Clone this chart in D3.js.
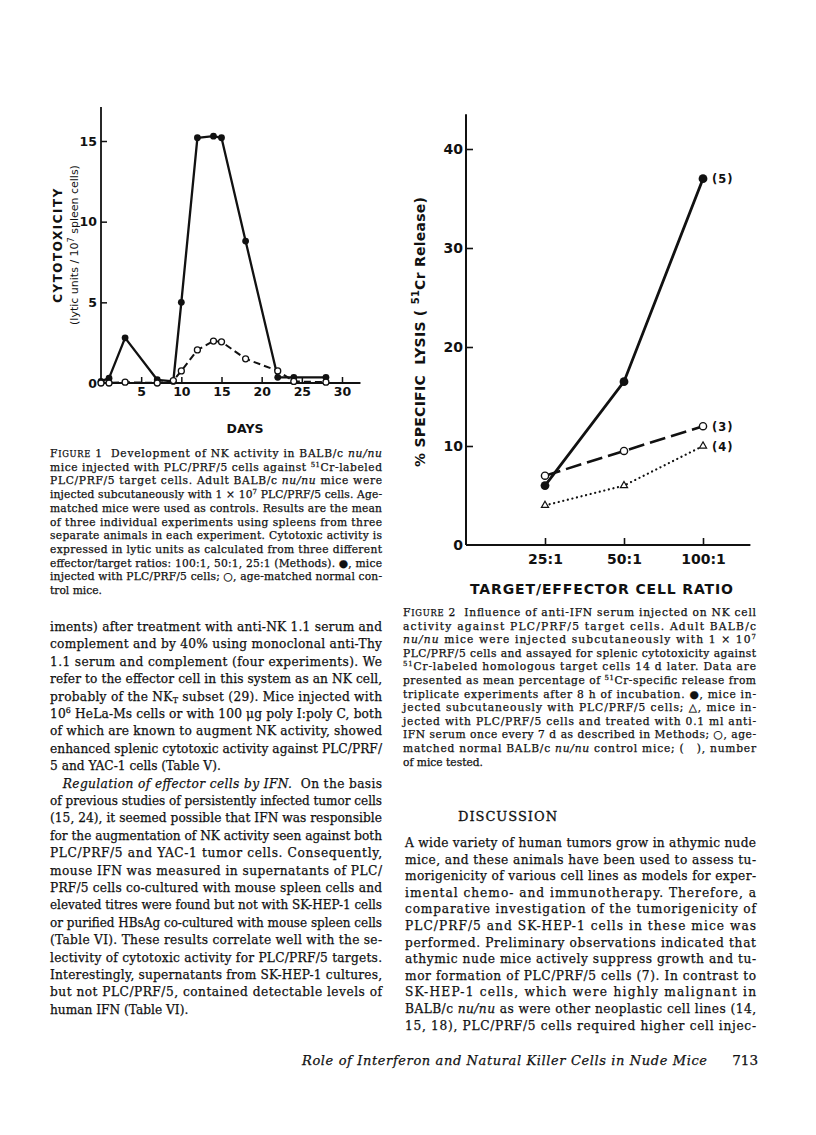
<!DOCTYPE html>
<html>
<head>
<meta charset="utf-8">
<script src="https://cdn.jsdelivr.net/npm/d3@7"></script>
<style>
  body { margin: 0; background: #fff; }
  svg { display: block; }
  text { white-space: pre; }
</style>
</head>
<body>
<svg id="page" width="816" height="1135"></svg>
<script>
// ---- Figure 1 data: cytotoxicity (lytic units / 10^7 spleen cells) by day ----
const fig1Days = [0, 1, 3, 7, 9, 10, 12, 14, 15, 18, 22, 24, 28];
const fig1Injected = [0.1, 0.3, 2.8, 0.2, 0.1, 5.0, 15.2, 15.3, 15.2, 8.8, 0.35, 0.35, 0.35];
const fig1Control = [0, 0, 0.05, 0, 0.15, 0.75, 2.05, 2.6, 2.55, 1.5, 0.75, 0.1, 0.05];
const fig1XTicks = [5, 10, 15, 20, 25, 30];
const fig1YTicks = [0, 5, 10, 15];

// ---- Figure 2 data: % specific lysis by target/effector ratio ----
const fig2Ratios = ["25:1", "50:1", "100:1"];
const fig2Injected = [6, 16.5, 37];
const fig2Control = [7, 9.5, 12];
const fig2AntiIFN = [4, 6, 10];
const fig2Counts = ["(5)", "(3)", "(4)"];
const fig2YTicks = [0, 10, 20, 30, 40];

// ---- page text (one entry per printed line) ----
const caption1 = [
  "F{IGURE} 1  Development of NK activity in BALB/c *nu/nu*",
  "mice injected with PLC/PRF/5 cells against ^51^Cr-labeled",
  "PLC/PRF/5 target cells. Adult BALB/c *nu/nu* mice were",
  "injected subcutaneously with 1 × 10^7^ PLC/PRF/5 cells. Age-",
  "matched mice were used as controls. Results are the mean",
  "of three individual experiments using spleens from three",
  "separate animals in each experiment. Cytotoxic activity is",
  "expressed in lytic units as calculated from three different",
  "effector/target ratios: 100:1, 50:1, 25:1 (Methods). ●, mice",
  "injected with PLC/PRF/5 cells; ○, age-matched normal con-",
  "trol mice."
];
const caption2 = [
  "F{IGURE} 2  Influence of anti-IFN serum injected on NK cell",
  "activity against PLC/PRF/5 target cells. Adult BALB/c",
  "*nu/nu* mice were injected subcutaneously with 1 × 10^7^",
  "PLC/PRF/5 cells and assayed for splenic cytotoxicity against",
  "^51^Cr-labeled homologous target cells 14 d later. Data are",
  "presented as mean percentage of ^51^Cr-specific release from",
  "triplicate experiments after 8 h of incubation. ●, mice in-",
  "jected subcutaneously with PLC/PRF/5 cells; △, mice in-",
  "jected with PLC/PRF/5 cells and treated with 0.1 ml anti-",
  "IFN serum once every 7 d as described in Methods; ○, age-",
  "matched normal BALB/c *nu/nu* control mice; (   ), number",
  "of mice tested."
];
const leftBody = [
  "iments) after treatment with anti-NK 1.1 serum and",
  "complement and by 40% using monoclonal anti-Thy",
  "1.1 serum and complement (four experiments). We",
  "refer to the effector cell in this system as an NK cell,",
  "probably of the NK~T~ subset (29). Mice injected with",
  "10^6^ HeLa-Ms cells or with 100 μg poly I:poly C, both",
  "of which are known to augment NK activity, showed",
  "enhanced splenic cytotoxic activity against PLC/PRF/",
  "5 and YAC-1 cells (Table V).",
  "   *Regulation of effector cells by IFN.*  On the basis",
  "of previous studies of persistently infected tumor cells",
  "(15, 24), it seemed possible that IFN was responsible",
  "for the augmentation of NK activity seen against both",
  "PLC/PRF/5 and YAC-1 tumor cells. Consequently,",
  "mouse IFN was measured in supernatants of PLC/",
  "PRF/5 cells co-cultured with mouse spleen cells and",
  "elevated titres were found but not with SK-HEP-1 cells",
  "or purified HBsAg co-cultured with mouse spleen cells",
  "(Table VI). These results correlate well with the se-",
  "lectivity of cytotoxic activity for PLC/PRF/5 targets.",
  "Interestingly, supernatants from SK-HEP-1 cultures,",
  "but not PLC/PRF/5, contained detectable levels of",
  "human IFN (Table VI)."
];
const leftBodyLast = [8, 22];
const rightBody = [
  "A wide variety of human tumors grow in athymic nude",
  "mice, and these animals have been used to assess tu-",
  "morigenicity of various cell lines as models for exper-",
  "imental chemo- and immunotherapy. Therefore, a",
  "comparative investigation of the tumorigenicity of",
  "PLC/PRF/5 and SK-HEP-1 cells in these mice was",
  "performed. Preliminary observations indicated that",
  "athymic nude mice actively suppress growth and tu-",
  "mor formation of PLC/PRF/5 cells (7). In contrast to",
  "SK-HEP-1 cells, which were highly malignant in",
  "BALB/c *nu/nu* as were other neoplastic cell lines (14,",
  "15, 18), PLC/PRF/5 cells required higher cell injec-"
];

const svg = d3.select("#page");
const ink = "#111";
const serif = "'DejaVu Serif', serif";
const sans = "'DejaVu Sans', sans-serif";

// ================= Figure 1 =================
const x1 = d3.scaleLinear().domain([0, 30]).range([101, 342]);
const y1 = d3.scaleLinear().domain([0, 15]).range([383, 141]);
const g1 = svg.append("g");

g1.append("line")
  .attr("x1", x1(0)).attr("x2", x1(0))
  .attr("y1", y1(0)).attr("y2", y1(17.1))
  .attr("stroke", ink).attr("stroke-width", 1.8);
g1.append("line")
  .attr("x1", x1(0)).attr("x2", x1(32.3))
  .attr("y1", y1(0)).attr("y2", y1(0))
  .attr("stroke", ink).attr("stroke-width", 1.8);

const ax1 = g1.append("g")
  .attr("transform", `translate(0,${y1(0)})`)
  .call(d3.axisBottom(x1).tickValues(fig1XTicks).tickSizeInner(-6).tickSizeOuter(0).tickPadding(4));
const ay1 = g1.append("g")
  .attr("transform", `translate(${x1(0)},0)`)
  .call(d3.axisLeft(y1).tickValues(fig1YTicks).tickSizeInner(-6).tickSizeOuter(0).tickPadding(4));
[ax1, ay1].forEach((a) => {
  a.select(".domain").remove();
  a.selectAll("line").attr("stroke", ink).attr("stroke-width", 1.5);
  a.selectAll("text").attr("font-family", sans).attr("font-weight", "bold")
    .attr("font-size", 12.5).attr("fill", ink);
});
ay1.selectAll(".tick").filter((d) => d === 0).select("line").remove();

g1.append("text")
  .attr("x", 245).attr("y", 433)
  .attr("text-anchor", "middle")
  .attr("font-family", sans).attr("font-weight", "bold").attr("font-size", 12.5)
  .attr("fill", ink).text("DAYS");

const yLab1 = g1.append("g").attr("transform", "translate(62,245) rotate(-90)");
yLab1.append("text")
  .attr("text-anchor", "middle").attr("y", 0)
  .attr("font-family", sans).attr("font-weight", "bold").attr("font-size", 12)
  .attr("letter-spacing", 1.5).attr("fill", ink).text("CYTOTOXICITY");
const yl2 = yLab1.append("text")
  .attr("text-anchor", "middle").attr("y", 16)
  .attr("font-family", sans).attr("font-size", 11).attr("fill", ink);
yl2.append("tspan").text("(lytic units / 10");
yl2.append("tspan").attr("font-size", 8).attr("dy", -4).text("7");
yl2.append("tspan").attr("dy", 4).text(" spleen cells)");

const line1 = (vals) => d3.line().x((d, i) => x1(fig1Days[i])).y((d) => y1(d))(vals);

g1.append("path").attr("d", line1(fig1Injected))
  .attr("fill", "none").attr("stroke", ink).attr("stroke-width", 2.3).attr("stroke-linejoin", "round");
g1.selectAll(".f1dot").data(fig1Injected).join("circle")
  .attr("class", "f1dot")
  .attr("cx", (d, i) => x1(fig1Days[i])).attr("cy", (d) => y1(d))
  .attr("r", 3.4).attr("fill", ink);
g1.append("path").attr("d", line1(fig1Control))
  .attr("fill", "none").attr("stroke", ink).attr("stroke-width", 2)
  .attr("stroke-dasharray", "7,4");
g1.selectAll(".f1open").data(fig1Control).join("circle")
  .attr("class", "f1open")
  .attr("cx", (d, i) => x1(fig1Days[i])).attr("cy", (d) => y1(d))
  .attr("r", 3).attr("fill", "#fff").attr("stroke", ink).attr("stroke-width", 1.3);

// ================= Figure 2 =================
const x2 = d3.scalePoint().domain(fig2Ratios).range([545, 703]);
const y2 = d3.scaleLinear().domain([0, 40]).range([545, 149]);
const g2 = svg.append("g");
const x2Start = x2(fig2Ratios[0]) - x2.step();
const x2End = x2(fig2Ratios[2]) + x2.step() * 0.6;

g2.append("line")
  .attr("x1", x2Start).attr("x2", x2Start)
  .attr("y1", y2(0)).attr("y2", y2(43.5))
  .attr("stroke", ink).attr("stroke-width", 2);
g2.append("line")
  .attr("x1", x2Start).attr("x2", x2End)
  .attr("y1", y2(0)).attr("y2", y2(0))
  .attr("stroke", ink).attr("stroke-width", 2);

const ax2 = g2.append("g")
  .attr("transform", `translate(0,${y2(0)})`)
  .call(d3.axisBottom(x2).tickSizeInner(-7).tickSizeOuter(0).tickPadding(9));
const ay2 = g2.append("g")
  .attr("transform", `translate(${x2Start},0)`)
  .call(d3.axisLeft(y2).tickValues(fig2YTicks).tickSizeInner(-7).tickSizeOuter(0).tickPadding(3));
[ax2, ay2].forEach((a) => {
  a.select(".domain").remove();
  a.selectAll("line").attr("stroke", ink).attr("stroke-width", 1.6);
  a.selectAll("text").attr("font-family", sans).attr("font-weight", "bold")
    .attr("font-size", 14).attr("fill", ink);
});
ay2.selectAll(".tick").filter((d) => d === 0).select("line").remove();

g2.append("text")
  .attr("x", 470).attr("y", 594)
  .attr("font-family", sans).attr("font-weight", "bold").attr("font-size", 14)
  .attr("textLength", 263).attr("lengthAdjust", "spacing")
  .attr("fill", ink).text("TARGET/EFFECTOR CELL RATIO");

const yLab2 = g2.append("text")
  .attr("transform", "translate(425,332) rotate(-90)")
  .attr("x", -135)
  .attr("font-family", sans).attr("font-weight", "bold").attr("font-size", 14)
  .attr("textLength", 270).attr("lengthAdjust", "spacing")
  .attr("fill", ink);
yLab2.append("tspan").text("% SPECIFIC  LYSIS ( ");
yLab2.append("tspan").attr("font-size", 10).attr("dy", -6).text("51");
yLab2.append("tspan").attr("dy", 6).text("Cr Release)");

const line2 = (vals) => d3.line().x((d, i) => x2(fig2Ratios[i])).y((d) => y2(d))(vals);

g2.append("path").attr("d", line2(fig2AntiIFN))
  .attr("fill", "none").attr("stroke", ink).attr("stroke-width", 2.2)
  .attr("stroke-linecap", "round").attr("stroke-dasharray", "0.1,4.6");
g2.append("path").attr("d", line2(fig2Control))
  .attr("fill", "none").attr("stroke", ink).attr("stroke-width", 2.6)
  .attr("stroke-dasharray", "16,6");
g2.append("path").attr("d", line2(fig2Injected))
  .attr("fill", "none").attr("stroke", ink).attr("stroke-width", 2.8);

g2.selectAll(".tri").data(fig2AntiIFN).join("path")
  .attr("class", "tri")
  .attr("transform", (d, i) => `translate(${x2(fig2Ratios[i])},${y2(d)})`)
  .attr("d", d3.symbol(d3.symbolTriangle, 22))
  .attr("fill", "#fff").attr("stroke", ink).attr("stroke-width", 1.2);
g2.selectAll(".f2open").data(fig2Control).join("circle")
  .attr("class", "f2open")
  .attr("cx", (d, i) => x2(fig2Ratios[i])).attr("cy", (d) => y2(d))
  .attr("r", 3.6).attr("fill", "#fff").attr("stroke", ink).attr("stroke-width", 1.4);
g2.selectAll(".f2dot").data(fig2Injected).join("circle")
  .attr("class", "f2dot")
  .attr("cx", (d, i) => x2(fig2Ratios[i])).attr("cy", (d) => y2(d))
  .attr("r", 4.4).attr("fill", ink);

const lastVals = [fig2Injected[2], fig2Control[2], fig2AntiIFN[2]];
g2.selectAll(".cnt").data(fig2Counts).join("text")
  .attr("class", "cnt")
  .attr("x", x2(fig2Ratios[2]) + 9).attr("y", (d, i) => y2(lastVals[i]) + 4.5)
  .attr("font-family", sans).attr("font-weight", "bold").attr("font-size", 11.5)
  .attr("letter-spacing", 1).attr("fill", ink).text((d) => d);

// ================= running text =================
// scanned print is heavier than a clean serif, so give glyphs a thin outline
function richLine(str, x, y, size, width, justify) {
  const t = svg.append("text")
    .attr("x", x).attr("y", y)
    .attr("font-family", serif).attr("font-size", size).attr("fill", ink)
    .attr("stroke", ink).attr("stroke-width", 0.25)
    .attr("xml:space", "preserve");
  const parts = str.split(/(\*[^*]+\*|\^[^^]+\^|~[^~]+~|\{[^}]+\})/).filter((s) => s.length);
  let shift = 0;
  parts.forEach((p) => {
    const ts = t.append("tspan");
    let txt = p, dy = 0;
    if (p[0] === "*") { txt = p.slice(1, -1); ts.attr("font-style", "italic"); }
    else if (p[0] === "^") { txt = p.slice(1, -1); ts.attr("font-size", size * 0.65); dy = -size * 0.38; }
    else if (p[0] === "~") { txt = p.slice(1, -1); ts.attr("font-size", size * 0.65); dy = size * 0.22; }
    else if (p[0] === "{") { txt = p.slice(1, -1); ts.attr("font-size", size * 0.78); }
    if (dy - shift !== 0) ts.attr("dy", dy - shift);
    shift = dy;
    ts.text(txt);
  });
  if (justify) {
    const natural = t.node().getComputedTextLength();
    t.attr("textLength", width)
      .attr("lengthAdjust", natural > width ? "spacingAndGlyphs" : "spacing");
  }
  return t;
}

function block(lines, x, y0, step, size, width, lastIdx) {
  lines.forEach((s, i) => {
    const isLast = lastIdx.includes(i);
    richLine(s, x, y0 + i * step, size, width, !isLast);
  });
}

const leftX = 50, leftW = 332;
const rightX = 403, rightW = 353;

block(caption1, leftX, 457, 13.7, 10.7, leftW, [caption1.length - 1]);
block(leftBody, leftX, 631, 17.4, 12.2, leftW, leftBodyLast);
block(caption2, rightX, 616, 13.6, 10.7, rightW, [caption2.length - 1]);

svg.append("text")
  .attr("x", 458).attr("y", 821)
  .attr("font-family", serif).attr("font-size", 13)
  .attr("stroke", ink).attr("stroke-width", 0.3)
  .attr("textLength", 99).attr("lengthAdjust", "spacing")
  .attr("fill", ink).text("DISCUSSION");

block(rightBody, rightX + 2, 847, 16.6, 12.2, rightW - 2, []);

svg.append("text")
  .attr("x", 302).attr("y", 1065)
  .attr("font-family", serif).attr("font-style", "italic").attr("font-size", 13)
  .attr("stroke", ink).attr("stroke-width", 0.25)
  .attr("textLength", 405).attr("lengthAdjust", "spacing")
  .attr("fill", ink).text("Role of Interferon and Natural Killer Cells in Nude Mice");
svg.append("text")
  .attr("x", 758).attr("y", 1065).attr("text-anchor", "end")
  .attr("font-family", serif).attr("font-size", 13.5)
  .attr("stroke", ink).attr("stroke-width", 0.25)
  .attr("fill", ink).text("713");
</script>
</body>
</html>
